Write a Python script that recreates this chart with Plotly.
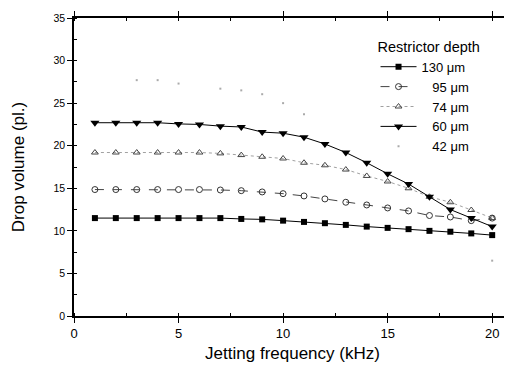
import plotly.graph_objects as go

freq = list(range(1, 21))
d130 = [11.5, 11.5, 11.5, 11.5, 11.5, 11.5, 11.5, 11.4, 11.35, 11.2,
        11.05, 10.9, 10.7, 10.5, 10.35, 10.2, 10.0, 9.9, 9.7, 9.5]
d95 = [14.85, 14.85, 14.85, 14.85, 14.85, 14.85, 14.8, 14.72, 14.57, 14.37,
       14.1, 13.75, 13.36, 13.04, 12.69, 12.34, 11.8, 11.63, 11.2, 11.5]
d74 = [19.2, 19.2, 19.2, 19.2, 19.2, 19.2, 19.1, 18.9, 18.7, 18.5,
       18.0, 17.7, 17.2, 16.45, 15.8, 15.0, 14.0, 13.36, 12.45, 11.5]
d60 = [22.7, 22.7, 22.7, 22.7, 22.56, 22.5, 22.3, 22.2, 21.6, 21.47,
       21.0, 20.2, 19.2, 18.0, 16.7, 15.5, 14.0, 12.5, 11.5, 10.5]
d42 = [None, None, 27.7, 27.7, 27.3, None, 26.7, 26.5, 26.05, 25.0,
       23.7, None, None, None, None, None, None, None, None, 6.5]

names = ["130 μm", "\u2007 95 μm", "\u2007 74 μm", "\u2007 60 μm", "\u2007 42 μm"]
FONT = "Liberation Sans, Arial"

fig = go.Figure()
fig.add_trace(go.Scatter(x=freq, y=d130, name=names[0], mode="lines+markers",
                         line=dict(color="black", width=1),
                         marker=dict(symbol="square", size=6, color="black")))
fig.add_trace(go.Scatter(x=freq, y=d95, name=names[1], mode="lines+markers",
                         line=dict(color="#444", width=1, dash="dash"),
                         marker=dict(symbol="circle-open", size=6, color="#333", line=dict(width=1))))
fig.add_trace(go.Scatter(x=freq, y=d74, name=names[2], mode="lines+markers",
                         line=dict(color="#888", width=0.8, dash="dot"),
                         marker=dict(symbol="triangle-up-open", size=6, color="#444", line=dict(width=1))))
fig.add_trace(go.Scatter(x=freq, y=d60, name=names[3], mode="lines+markers",
                         line=dict(color="black", width=1),
                         marker=dict(symbol="triangle-down", size=8, color="black")))
fig.add_trace(go.Scatter(x=freq, y=d42, name=names[4], mode="markers",
                         marker=dict(symbol="square", size=2, color="#aaa")))

axis_common = dict(showline=True, linecolor="black", linewidth=1.5, mirror="ticks",
                   showgrid=False, zeroline=False, ticks="outside", ticklen=5,
                   tickcolor="black", tickwidth=1, automargin=False)

fig.update_xaxes(range=[0, 20.9], tickvals=[0, 5, 10, 15, 20],
                 tickfont=dict(family=FONT, size=13, color="black"),
                 title=dict(text="Jetting frequency (kHz)",
                            font=dict(family=FONT, size=17, color="black"),
                            standoff=7),
                 minor=dict(dtick=2.5, ticks="inside", ticklen=3, tickcolor="black"),
                 **axis_common)
fig.update_yaxes(range=[0, 35], tickvals=[0, 5, 10, 15, 20, 25, 30, 35],
                 tickfont=dict(family=FONT, size=10.5, color="black"),
                 title=dict(text="Drop volume (pl.)",
                            font=dict(family=FONT, size=17, color="black"),
                            standoff=25),
                 minor=dict(dtick=2.5, ticks="inside", ticklen=3, tickcolor="black"),
                 **axis_common)

fig.update_layout(
    width=504, height=358,
    margin=dict(l=66, r=1, t=10, b=50),
    plot_bgcolor="white", paper_bgcolor="white",
    legend=dict(x=0.69, y=0.95, xanchor="left", yanchor="top",
                bgcolor="rgba(0,0,0,0)", itemwidth=36, tracegroupgap=0,
                title=dict(text="Restrictor depth",
                           font=dict(family=FONT, size=14.5, color="black")),
                font=dict(family=FONT, size=13, color="black")),
)

fig.write_html("out.html")
